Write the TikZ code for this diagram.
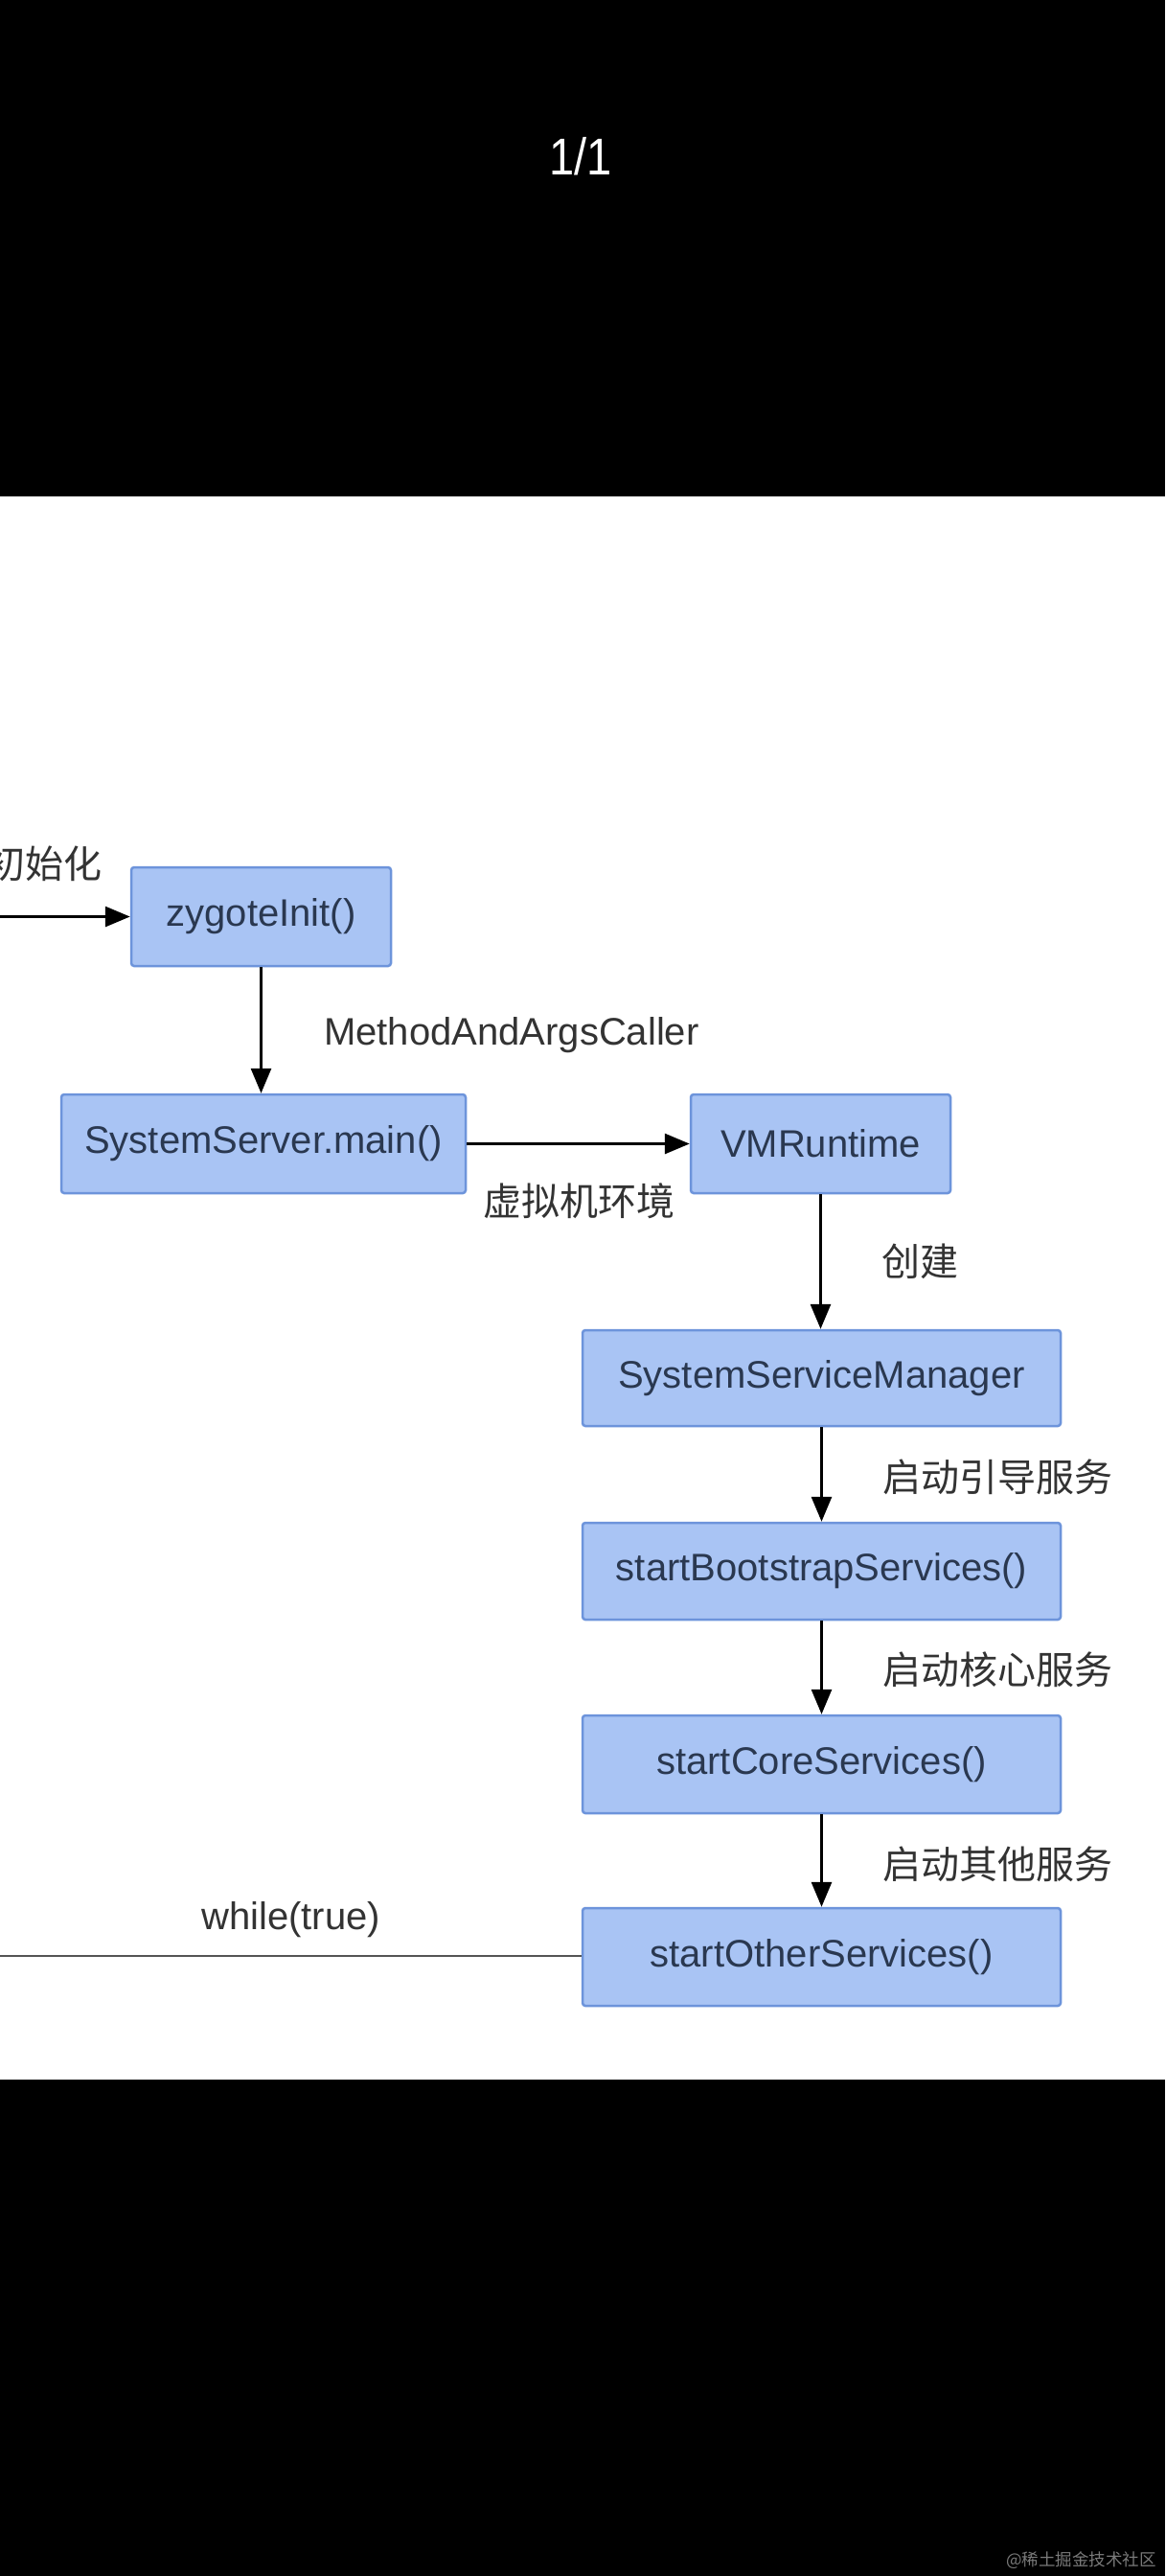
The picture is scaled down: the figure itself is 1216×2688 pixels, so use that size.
\documentclass[tikz,border=0pt]{standalone}
\usepackage{fontspec}
\setmainfont{Liberation Sans}
\newfontfamily\cjk{Noto Sans CJK SC}
\usetikzlibrary{arrows.meta}
\definecolor{boxfill}{HTML}{A9C4F4}
\definecolor{boxdraw}{HTML}{6D94DB}
\definecolor{boxtext}{HTML}{2A3850}
\definecolor{lbltext}{HTML}{333333}
\definecolor{loopgray}{HTML}{555555}
\definecolor{wmgray}{HTML}{7A7A7A}
\begin{document}
\begin{tikzpicture}[x=1pt,y=-1pt,
  box/.style={draw=boxdraw, fill=boxfill, line width=2.5pt, rounded corners=3pt,
    text=boxtext, font=\fontsize{40}{48}\selectfont, inner sep=0pt},
  arr/.style={-{Triangle[length=26pt,width=21pt]}, line width=3pt, black},
  lbl/.style={font=\cjk\fontsize{40}{48}\selectfont, text=lbltext, inner sep=0pt},
  latlbl/.style={font=\fontsize{40}{48}\selectfont, text=lbltext, inner sep=0pt},
]
\fill[black] (0,0) rectangle (1216,518);
\fill[white] (0,518) rectangle (1216,2170);
\fill[black] (0,2170) rectangle (1216,2688);
\useasboundingbox (0,0) rectangle (1216,2688);

\node[text=white, font=\fontsize{54}{60}\selectfont, inner sep=0pt] (pg) at (606,163) {\scalebox{0.87}[1]{1/1}};

\node[box, minimum width=271pt, minimum height=103pt] (zyg) at (272.5,956.5) {zygoteInit()};
\node[box, minimum width=422pt, minimum height=103pt] (ssmain) at (275,1193.5) {SystemServer.main()};
\node[box, minimum width=271pt, minimum height=103pt] (vm) at (856.5,1193.5) {VMRuntime};
\node[box, minimum width=499pt, minimum height=100pt] (ssm) at (857.5,1438) {SystemServiceManager};
\node[box, minimum width=499pt, minimum height=101pt] (boot) at (857.5,1639.5) {startBootstrapServices()};
\node[box, minimum width=499pt, minimum height=102pt] (core) at (857.5,1841) {startCoreServices()};
\node[box, minimum width=499pt, minimum height=102pt] (other) at (857.5,2042) {startOtherServices()};

\coordinate (inL) at (0,956.5);
\coordinate (loopL) at (0,2041);
\draw[arr] (inL) -- (zyg.west);
\draw[arr] (zyg.south) -- (zyg.south |- ssmain.north);
\draw[arr] (ssmain.east) -- (vm.west);
\draw[arr] (vm.south) -- (vm.south |- ssm.north);
\draw[arr] (ssm.south) -- (boot.north);
\draw[arr] (boot.south) -- (core.north);
\draw[arr] (core.south) -- (other.north);
\draw[line width=2pt, loopgray] (other.west |- loopL) -- (loopL);

\node[lbl, anchor=east] (linit) at (107,901) {初始化};
\node[latlbl, anchor=base west] (lmac) at (338,1090) {MethodAndArgsCaller};
\node[lbl, anchor=west] (lvm) at (504,1253) {虚拟机环境};
\node[lbl, anchor=west] (lcj) at (920,1316) {创建};
\node[lbl, anchor=west] (lboot) at (921,1541) {启动引导服务};
\node[lbl, anchor=west] (lcore) at (921,1742) {启动核心服务};
\node[lbl, anchor=west] (lother) at (921,1945) {启动其他服务};
\node[latlbl, anchor=base west] (lwhile) at (210,2013) {while(true)};

\node[anchor=base east, text=wmgray, font=\cjk\fontsize{17.5}{20}\selectfont, inner sep=0pt] (wm) at (1207,2677) {@稀土掘金技术社区};
\end{tikzpicture}
\end{document}
